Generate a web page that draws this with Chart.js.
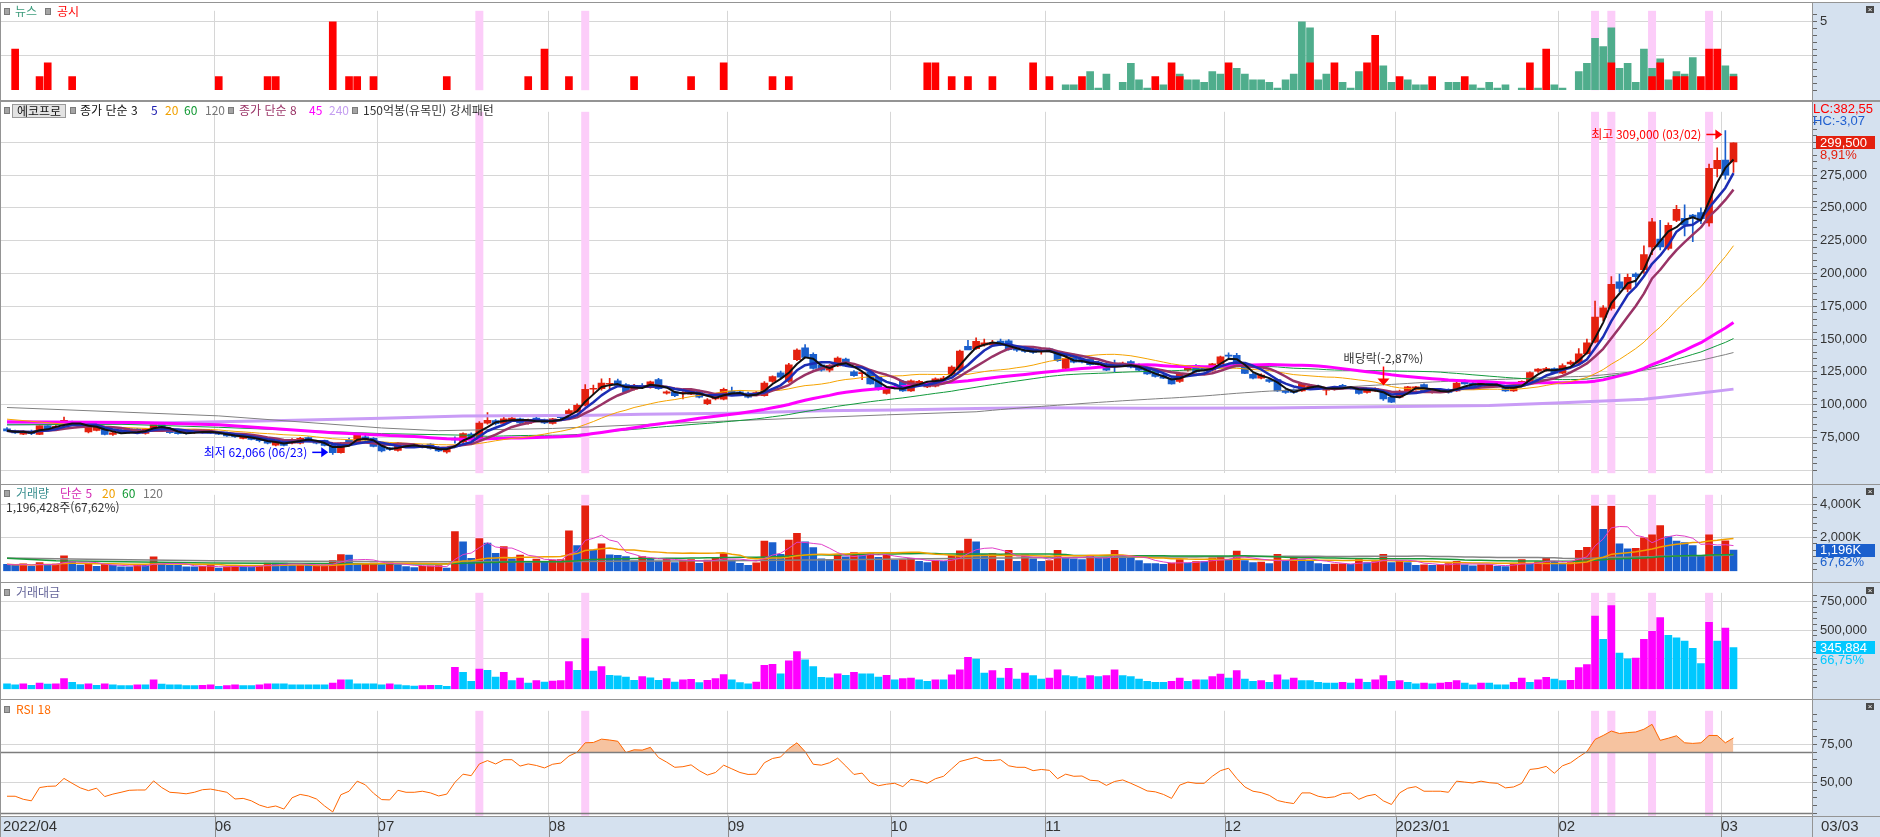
<!DOCTYPE html>
<html lang="ko">
<head>
<meta charset="utf-8">
<title>에코프로 일봉 차트</title>
<script src="https://cdn.jsdelivr.net/npm/chart.js@4.4.1/dist/chart.umd.min.js"></script>
<style>
  html,body{margin:0;padding:0;background:#fff;}
  body{width:1880px;height:837px;position:relative;overflow:hidden;font-family:'Noto Sans CJK KR','Noto Sans',sans-serif;}
  canvas{position:absolute;left:0;z-index:1;}
  .bg{position:absolute;z-index:0;}
  .ln{position:absolute;z-index:3;background:#949494;}
  .t{position:absolute;z-index:4;font-size:12px;line-height:14px;white-space:nowrap;}
  .n{font-family:'Liberation Sans Narrow','Liberation Sans',Arial,sans-serif;font-size:13px;}
  .sq{position:absolute;z-index:4;width:4px;height:5px;background:#a4a4a4;border:1px solid #7a7a7a;}
  .xb{position:absolute;z-index:4;width:8px;height:7px;background:#4a4a4a;color:#fff;font:8px/7px sans-serif;text-align:center;}
  .box{position:absolute;z-index:4;left:12px;top:104px;width:52px;height:12px;border:1px solid #9a9a9a;background:#e3e3e3;font-size:12px;line-height:12px;text-align:center;color:#111;}
</style>
</head>
<body>
<!-- backgrounds -->
<div class="bg" style="left:1812px;top:2px;width:68px;height:814px;background:#d5e1ef"></div>
<div class="bg" style="left:0;top:816px;width:1880px;height:21px;background:#d5e1ef"></div>

<canvas id="cNews" width="1880" height="101" style="top:0"></canvas>
<canvas id="cPrice" width="1880" height="383" style="top:101px"></canvas>
<canvas id="cVol" width="1880" height="98" style="top:484px"></canvas>
<canvas id="cVal" width="1880" height="118" style="top:582px"></canvas>
<canvas id="cRsi" width="1880" height="137" style="top:700px"></canvas>

<!-- panel borders -->
<div class="ln" style="left:0;top:2px;width:1880px;height:1px"></div>
<div class="ln" style="left:0;top:100px;width:1880px;height:2px"></div>
<div class="ln" style="left:0;top:484px;width:1880px;height:1px"></div>
<div class="ln" style="left:0;top:582px;width:1880px;height:1px"></div>
<div class="ln" style="left:0;top:699px;width:1880px;height:1px"></div>
<div class="ln" style="left:0;top:816px;width:1880px;height:1px"></div>
<div class="ln" style="left:0;top:2px;width:1px;height:835px"></div>
<div class="ln" style="left:1812px;top:2px;width:1px;height:835px"></div>

<!-- legends -->
<i class="sq" style="left:4px;top:8px"></i>
<div class="t" style="left:15px;top:4px;color:#3c9c7c">뉴스</div>
<i class="sq" style="left:45px;top:8px"></i>
<div class="t" style="left:57px;top:4px;color:#ff0000">공시</div>

<i class="sq" style="left:4px;top:107px"></i>
<div class="box">에코프로</div>
<i class="sq" style="left:70px;top:107px"></i>
<div class="t" style="left:80px;top:103px;color:#111">종가 단순 3</div>
<div class="t" style="left:151px;top:103px;color:#2020b0">5</div>
<div class="t" style="left:165px;top:103px;color:#f0a000">20</div>
<div class="t" style="left:184px;top:103px;color:#119933">60</div>
<div class="t" style="left:205px;top:103px;color:#777">120</div>
<i class="sq" style="left:228px;top:107px"></i>
<div class="t" style="left:239px;top:103px;color:#993366">종가 단순 8</div>
<div class="t" style="left:309px;top:103px;color:#ff00ff">45</div>
<div class="t" style="left:329px;top:103px;color:#c49ef0">240</div>
<i class="sq" style="left:352px;top:107px"></i>
<div class="t" style="left:363px;top:103px;color:#333">150억봉(유목민) 강세패턴</div>

<i class="sq" style="left:4px;top:490px"></i>
<div class="t" style="left:16px;top:486px;color:#3a8f8f">거래량</div>
<div class="t" style="left:60px;top:486px;color:#d42ab4">단순 5</div>
<div class="t" style="left:102px;top:486px;color:#f0a000">20</div>
<div class="t" style="left:122px;top:486px;color:#119933">60</div>
<div class="t" style="left:143px;top:486px;color:#777">120</div>
<div class="t" id="volInfo" style="left:6px;top:500px;color:#333"></div>

<i class="sq" style="left:4px;top:589px"></i>
<div class="t" style="left:16px;top:585px;color:#66669a">거래대금</div>

<i class="sq" style="left:4px;top:706px"></i>
<div class="t" style="left:16px;top:702px;color:#ff6a00">RSI 18</div>

<!-- right axis info -->
<div class="t n" id="lcInfo" style="left:1813px;top:102px;color:#ff0000"></div>
<div class="t n" id="hcInfo" style="left:1813px;top:114px;color:#1f5fd0"></div>
<div class="t n" id="lastDate" style="left:1821px;top:819px;color:#333;font-size:15px"></div>
<div class="xb" style="left:1866px;top:6px">×</div>
<div class="xb" style="left:1866px;top:488px">×</div>
<div class="xb" style="left:1866px;top:587px">×</div>
<div class="xb" style="left:1866px;top:703px">×</div>

<script>
// ---------------- DATA ----------------
const monthLabels   = ['2022/04','06','07','08','09','10','11','12','2023/01','02','03'];
const monthFirstBar = [0,26,46,67,89,109,128,150,171,191,211];
const lastDateLabel = '03/03';
const priceInfo     = ['LC:382,55','HC:-3,07'];
const extremeDates  = {low:'06/23', high:'03/02'};
const priceEvents   = [{bar:169, text:'배당락(-2,87%)'}];
const highlightBars = [58,71,195,197,202,209];
const rsiLevels     = [70,30];

const openP = [
81500,80000,77500,79800,77200,84000,81600,84700,86400,85200,
79100,80300,81100,77200,80500,81600,81600,78000,81100,85200,
81600,80300,79800,78600,78600,79600,78500,78600,77200,74300,
75000,73500,72600,69000,71800,70600,70600,74800,72300,72800,
68900,63400,73000,71400,75500,74300,69900,67000,65000,69900,
69400,68900,69900,67500,64000,73500,71800,77500,74500,85900,
87800,85600,88100,89100,85700,89800,88600,85700,90200,89500,
94700,99500,111700,112200,115500,118200,115300,111700,114600,112900,
119000,108700,109700,108500,108000,110400,100700,104400,104100,110400,
109700,108700,107500,106800,117700,124300,117700,134300,143300,138400,
130400,126200,129400,134700,125000,123600,125000,120700,108500,114100,
117700,110400,116500,113400,114100,119000,123100,126200,144500,142600,
145500,145500,148500,148700,143800,142500,142600,141000,142600,140200,
127500,136000,134700,134700,132300,131100,131100,129900,132800,130400,
127500,125000,122600,120200,117700,126200,129900,127900,126200,131100,
137400,137600,131100,123100,120200,119000,119000,110900,111400,110400,
112900,114100,111000,111700,114600,112400,112200,109200,110400,110900,
105600,105600,110400,111500,115300,109200,111700,111700,110400,118200,
116500,114600,117000,115800,114100,110400,114100,117700,125500,126000,
127500,124000,131000,131400,138800,147600,166700,173300,193600,188100,
199500,202900,220200,226200,219000,240500,242100,244500,246400,238600,
279800,286400,285000];
const highP = [
82500,80500,80000,80500,84500,85000,84500,90500,87500,85800,
83500,83600,82000,79000,81000,82000,82000,82000,86000,86000,
82500,80800,80300,80500,80200,80000,79000,79000,77800,76000,
75500,74000,73000,72000,72500,74000,75000,75500,72800,73000,
69500,71000,74500,77800,76500,74800,70500,67500,71000,70500,
70000,69500,70200,68000,67500,75500,78500,78500,87000,94000,
88500,91500,92000,89800,89000,90500,89000,89500,91500,96500,
100500,115300,114800,119700,120000,119500,116000,115500,116000,118000,
120000,110500,110000,110000,111500,111000,104500,107000,112500,113400,
110500,109500,110000,117500,122000,125500,131500,142500,145700,139500,
131000,130500,136500,135500,126000,125000,125500,121000,113500,115000,
118500,118800,118500,117000,120500,121500,129500,141500,149000,151000,
150000,149000,150000,149500,144500,143500,143500,142000,143000,141000,
135800,138500,135500,135500,133000,131800,134000,132500,133500,131000,
128000,125500,123000,121000,124500,128500,130500,128500,131500,137000,
139500,139000,131500,123800,123500,120000,119500,111500,112000,116500,
115500,114800,112500,114000,115500,114000,112800,112200,112800,111500,
106000,111000,114000,114000,115800,111500,112200,112000,117000,118800,
117000,118200,117500,116200,114500,114500,118200,125000,127500,128500,
128000,131000,133500,142800,150000,179000,175500,197600,199500,199500,
200500,221000,242100,240500,238600,251900,252400,245000,250000,283300,
295700,309000,299500];
const lowP = [
79800,78000,77000,77000,77000,81000,81000,84000,85000,83000,
78500,80000,76800,76500,78000,78300,78500,77500,80500,81500,
78000,77500,77500,78000,78200,78000,77000,75800,75000,73800,
73000,71500,70000,68500,68500,70000,70000,72000,70000,68500,
62066,63000,71000,71000,72500,67800,64000,65000,64500,67500,
67800,67000,66000,64200,63000,70500,71000,74000,74000,85000,
84500,85000,87500,85500,85000,87000,85500,85000,89000,89000,
94000,99000,108000,111000,111700,114000,109000,111000,113000,112500,
111500,108000,106000,104400,107500,105000,100000,103500,103500,107000,
107000,105000,107000,106500,117000,120000,117000,133500,135500,127000,
125500,125000,129000,129000,121500,119000,115500,111000,108000,112000,
110000,110000,115500,113000,113500,118500,122500,125500,142000,142000,
144500,144500,145000,141500,140500,139800,139000,138500,140500,133000,
127000,131800,131800,130000,130000,125800,125000,129000,128000,125800,
123000,121000,119800,115500,117000,125500,124500,125500,125500,130500,
135500,130000,123500,119500,119500,117000,110000,108500,108500,110000,
112000,111500,107300,111000,112500,112000,108000,108800,110000,103200,
101500,105000,110000,111000,110000,108800,109200,108800,110000,115500,
113200,114200,113800,113500,110000,110000,113800,117200,124500,125500,
123500,123500,130500,131000,138500,147000,164000,172000,186000,186000,
190500,200000,214300,218000,218000,239500,228600,224300,238000,236000,
273600,271900,277100];
const closeP = [
80000,78500,79500,77800,84000,81600,83500,88100,85200,83500,
82800,83200,77200,78400,78800,78600,79100,81600,85200,82000,
78600,77900,77900,79800,79600,78500,77500,76200,75500,75500,
73500,72500,70600,71500,68900,73500,74300,72600,70600,68900,
63400,70600,71800,77200,73100,68200,64600,65800,70600,68200,
68200,67500,66500,64600,67000,73000,77900,74500,85900,88100,
85400,89100,89800,86100,88600,87400,86100,89100,90000,95400,
99500,111700,112200,116500,115800,114600,109700,114600,113600,117300,
112200,109700,106800,109000,110900,105600,103600,106100,111700,107500,
107500,105600,109200,116500,121400,120900,130400,141600,136000,127500,
126200,129900,135500,129400,122100,124300,115800,111700,112900,112900,
110400,118200,117700,116500,119700,120200,128700,140800,141600,148200,
147000,147000,145500,141900,141500,140500,139700,141400,141400,133400,
135200,132300,132300,130400,130400,126200,129900,131600,128700,126200,
123300,121400,120200,115800,123800,127900,125000,125800,131100,136500,
137000,130400,123800,120200,122600,117700,110400,109200,109200,115800,
114100,112200,111200,113400,112900,113600,108500,111700,112200,104400,
101900,110400,113600,113600,110400,110900,109700,109200,116500,115800,
113600,117700,114100,113900,110400,114100,117700,124500,127000,127500,
124000,129800,132500,138800,147000,166700,173800,191700,188600,197100,
197600,214300,239300,220200,236700,248800,236900,242900,241700,280200,
286200,275000,299500];
// 거래량 (천주)
const volumeK = [
330,260,350,200,430,310,340,850,500,280,
340,200,350,260,170,170,260,260,780,320,
270,260,170,170,200,260,90,170,260,170,
170,270,400,400,400,270,280,270,280,290,
560,920,900,360,380,400,300,420,300,190,
120,200,240,250,100,2330,1710,700,1900,1630,
1000,1420,670,900,420,650,510,590,620,2380,
1470,3920,1200,1580,910,880,800,540,800,700,
520,680,430,590,620,380,580,700,990,590,
380,270,410,1750,1660,940,1820,2220,1700,1350,
670,630,880,780,1040,960,975,760,900,566,
620,700,510,430,540,510,860,1150,1870,1710,
940,990,560,1180,510,910,670,510,560,1180,
720,660,610,860,750,690,1180,780,750,560,
370,370,320,400,620,400,500,500,720,800,
620,1140,560,430,460,370,940,560,750,620,
560,370,320,340,360,320,620,430,500,940,
430,560,430,270,290,260,300,370,510,300,
240,300,310,200,190,400,620,340,480,690,
510,400,440,1190,1365,3905,2476,3890,1587,1270,
1300,1950,2140,2700,2030,1750,1667,1476,840,2140,
1430,1769.3,1196.428];
// 거래대금 (백만원)
const valueM = [
27800,20500,27800,15700,35000,25400,27800,73700,42300,23000,
27800,15700,27800,20500,13300,13300,20500,20500,64000,25400,
20500,20500,13300,13300,15700,20500,6000,13300,20500,13300,
13300,20500,27800,27800,27800,20500,20500,20500,20500,20500,
35000,64000,64000,27800,27800,27800,20500,27800,20500,13300,
8500,13300,15700,15700,6000,172700,129200,49500,158200,146100,
88100,129200,56800,78500,35000,56800,44700,51900,56800,223400,
146100,426200,140000,180000,102600,97800,88100,59200,93000,80900,
59200,73700,44700,64000,68800,39800,59200,73700,109900,64000,
39800,27800,44700,190000,200000,117100,230600,310300,237900,179900,
85700,80900,117100,102600,129200,117100,117100,88100,102600,64000,
73700,78500,64000,49500,64000,64000,107000,151000,260000,245000,
122000,144000,78500,165000,71000,122000,100000,71000,78500,151000,
100000,93000,78500,100000,93000,100000,151000,100000,93000,71000,
49500,42000,42000,49500,78500,49500,64000,64000,93000,115000,
78500,144000,71000,49500,56800,42000,107000,64000,78500,56800,
56800,42000,35000,35000,42000,35000,71000,42000,64000,100000,
49500,56800,42000,27800,35000,27800,35000,42000,56800,35000,
20500,35000,35000,20500,20500,42000,78500,42000,64000,85700,
71000,56800,60000,170000,198000,623000,418000,715000,297000,248000,
255000,418000,489000,609000,453000,432000,404000,340000,205000,567000,
404000,518178,345884];
const rsi18 = [
41.1,41.1,39.1,38.1,46.8,47.6,47.8,52.8,49.6,46.6,
44.8,46.4,40.9,42.5,43.7,45.0,45.2,45.2,51.2,46.8,
43.7,43.3,42.7,43.7,45.4,45.8,44.8,43.7,39.3,39.7,
38.1,35.3,33.7,34.7,32.7,40.1,42.3,41.3,39.3,34.7,
30.8,42.1,44.4,51.0,48.6,43.1,38.9,38.7,45.0,43.7,
43.7,44.4,43.3,41.3,42.5,50.2,55.6,54.6,62.3,64.5,
62.3,65.1,65.1,60.9,62.3,61.3,59.7,62.1,62.9,67.5,
70.0,76.2,76.4,78.6,78.0,77.2,69.8,71.6,71.4,73.2,
66.5,63.5,60.1,60.5,61.7,57.9,55.0,56.7,61.5,59.1,
56.7,55.4,55.6,63.1,65.9,66.9,72.4,76.2,70.4,62.1,
61.5,63.1,66.1,60.9,55.4,56.3,50.2,48.0,49.0,49.6,
47.4,52.2,51.2,49.6,52.6,54.2,59.1,63.9,65.3,66.7,
64.5,64.5,65.1,61.1,60.1,60.1,57.9,58.7,58.1,52.6,
55.6,54.2,54.4,51.6,51.2,48.2,50.8,51.8,49.6,47.2,
44.6,44.0,42.3,39.7,48.4,50.4,49.6,49.6,54.2,57.9,
59.5,52.8,47.2,44.4,43.5,41.7,38.3,37.1,36.3,43.3,
43.3,41.1,40.1,40.7,42.9,43.3,39.1,41.3,42.3,38.1,
35.7,43.3,46.4,47.4,44.4,44.4,44.4,43.7,51.0,50.4,
49.8,51.0,50.0,49.6,46.6,47.2,49.6,58.7,59.3,60.7,
56.2,61.1,63.1,66.9,70.4,78.4,81.0,83.9,82.3,82.9,
83.3,85.1,88.3,77.8,79.2,80.8,76.2,75.8,76.2,81.0,
81.0,76.2,79.4];
// 뉴스 / 공시 (bar index, height)
const newsBar   = [130,131,133,134,135,137,138,139,140,142,144,145,146,147,148,149,151,152,153,154,155,156,157,158,159,160,161,162,164,165,166,169,170,172,173,174,177,178,180,181,182,183,184,186,188,190,191,193,194,195,196,197,198,199,200,201,202,203,204,205,206,207,211,212];
const newsCount = [0.4,0.4,1.36,0.16,1.18,0.58,1.96,0.76,0.16,0.4,1.18,0.76,0.76,0.58,1.36,1.18,1.6,1.18,0.76,0.76,0.58,0.16,0.76,1.18,5.0,4.55,0.76,1.18,0.58,0.16,1.36,1.78,0.58,0.76,0.4,0.4,0.58,0.58,0.4,0.16,0.58,0.16,0.4,0.16,0.16,0.4,0.16,1.36,1.96,3.79,3.19,4.55,1.6,1.96,0.58,3.0,1.6,2.3,0.76,1.36,1.18,2.39,1.78,1.18];
const discBar   = [1,4,5,8,26,32,33,40,42,43,45,54,64,66,69,77,84,88,94,96,113,114,116,118,121,126,128,132,141,143,144,150,160,163,167,168,171,175,179,187,189,197,202,203,205,206,208,209,210,212];
const discCount = [3,1,2,1,1,1,1,5,1,1,1,1,1,3,1,1,1,2,1,1,2,2,1,1,1,2,1,1,1,2,1,2,2,2,2,4,1,1,1,2,3,2,1,2,1,1,1,3,3,1];
// 이동평균 중 차트 시작 이전 데이터가 필요한 구간
const ma20Early  = [[0,88900],[10,83500]];
const ma45Early  = [[0,86900],[16,86400],[26,84600],[40,78500]];
const ma60Early  = [[0,84600],[14,85000],[26,82700],[46,77900],[56,76700]];
const ma120Early = [[0,97800],[26,91400],[46,82200],[53,80100],[67,81800],[88,87400],[108,92200]];
const ma240Read  = [[0,85300],[18,86000],[26,87000],[34,87800],[46,89600],[56,91400],[72,91800],[78,92700],[89,93400],[100,95400],[109,95900],[119,97100],[126,97600],[140,97300],[155,97500],[171,98600],[182,99400],[191,101400],[201,104100],[208,108900],[212,111800]];
const volMa60Early  = [[0,700],[6,544],[25,400],[53,352]];
const volMa120Early = [[0,720],[10,640],[25,544],[50,480],[70,500],[92,560],[105,624]];

// ---------------- HELPERS ----------------
const RED='#e4200e', BLUE='#1a5fcd', MAG='#ff00ff', CYAN='#00c8ff';
const NARROW="'Liberation Sans Narrow','Liberation Sans',Arial,sans-serif";
const CJK="'Noto Sans CJK KR','Noto Sans',sans-serif";
const fmt = v => Math.round(v).toLocaleString('en-US');
const dec2 = v => v.toFixed(2).replace('.', ',');
const near = (v, m) => Math.abs(v / m - Math.round(v / m)) < 1e-6;
const same = (v, t) => Math.abs(v - t) < 1e-6;
const N = closeP.length;
const idx = Array.from({length:N}, (_, i) => i);
const XMIN = -0.86, XMAX = 221.64;

function sma(src, n, startAt, partial) {
  const out = []; let sum = 0;
  for (let i = 0; i < src.length; i++) {
    sum += src[i];
    if (i >= n) sum -= src[i - n];
    const cnt = Math.min(i + 1, n);
    if (i >= startAt && (partial || i >= n - 1)) out.push({x:i, y:sum / cnt});
  }
  return out;
}
function blend(early, src, n) {
  return early.filter(p => p[0] < n - 1).map(p => ({x:p[0], y:p[1]})).concat(sma(src, n, n - 1, false));
}
const pts = arr => arr.map(p => ({x:p[0], y:p[1]}));

Chart.defaults.font.family = NARROW;
Chart.defaults.font.size = 13;
Chart.defaults.color = '#333';

function xScale(showLabels) {
  return {
    type:'linear', min:XMIN, max:XMAX, position:'bottom', offset:false, bounds:'data',
    afterBuildTicks: s => { s.ticks = monthFirstBar.map(b => ({value:b - 0.5})); },
    afterFit: s => { s.height = showLabels ? 21.3 : 0; },
    grid:{ color: c => c.index === 0 ? 'rgba(0,0,0,0)' : '#d6d6d6', drawTicks:false, offset:false, lineWidth:1 },
    border:{ display:false },
    ticks: showLabels
      ? { display:true, autoSkip:false, maxRotation:0, minRotation:0, align:'start', padding:2,
          font:{size:15, family:NARROW}, color:'#333', callback:(v, i) => monthLabels[i] }
      : { display:false }
  };
}
function yScale(min, max, step, isMajor, label) {
  return {
    type:'linear', position:'right', min, max, bounds:'data',
    afterBuildTicks: s => {
      const t = []; const k0 = Math.ceil(min / step - 1e-9);
      for (let k = k0; k * step <= max + 1e-9; k++) t.push({value: +(k * step).toFixed(6)});
      s.ticks = t;
    },
    afterFit: s => { s.width = 68; },
    border:{ display:true, color:'#8f8f8f', width:1 },
    grid:{ color: c => (c.tick && isMajor(c.tick.value)) ? '#d6d6d6' : 'rgba(0,0,0,0)', tickColor:'#666', tickLength:5, drawTicks:true },
    ticks:{ autoSkip:false, padding:3, color:'#333', font:{size:13, family:NARROW}, callback: v => label(v) }
  };
}
function baseOptions(scales, extraPlugins, padding) {
  return {
    responsive:false, maintainAspectRatio:false, animation:false, events:[],
    layout:{ padding: padding || 0, autoPadding:false },
    plugins: Object.assign({ legend:{display:false}, tooltip:{enabled:false} }, extraPlugins || {}),
    scales
  };
}
const line = (data, color, width, order) => ({
  type:'line', data, borderColor:color, borderWidth:width, pointRadius:0, fill:false,
  tension:0, order, borderJoinStyle:'round', spanGaps:true
});

// ---------------- PLUGINS ----------------
const bandsPlugin = {
  id:'bands',
  beforeDatasetsDraw(chart) {
    const {ctx, chartArea:a, scales:{x}} = chart;
    ctx.save(); ctx.fillStyle = '#fccdf9';
    highlightBars.forEach(b => { const px = x.getPixelForValue(b); ctx.fillRect(px - 4, a.top, 8, a.bottom - a.top); });
    ctx.restore();
  }
};
const lastBoxPlugin = {
  id:'lastBox',
  afterDraw(chart, args, o) {
    if (!o || !o.text) return;
    const {ctx, chartArea:a, scales:{y}} = chart;
    const py = y.getPixelForValue(o.value);
    const x0 = a.right + 4, w = 59, h = 13;
    ctx.save();
    ctx.fillStyle = o.bg; ctx.fillRect(x0, Math.round(py - h / 2), w, h);
    ctx.font = '13px ' + NARROW; ctx.textBaseline = 'middle'; ctx.textAlign = 'left';
    ctx.fillStyle = '#fff'; ctx.fillText(o.text, x0 + 4, py + 0.5);
    ctx.fillStyle = o.subColor; ctx.fillText(o.sub, x0 + 4, py + 12.5);
    ctx.restore();
  }
};
function arrowLabel(ctx, xEnd, yc, text, color) {
  ctx.strokeStyle = color; ctx.fillStyle = color; ctx.lineWidth = 1.5;
  ctx.beginPath(); ctx.moveTo(xEnd - 16, yc); ctx.lineTo(xEnd - 6, yc); ctx.stroke();
  ctx.beginPath(); ctx.moveTo(xEnd, yc); ctx.lineTo(xEnd - 7, yc - 5); ctx.lineTo(xEnd - 7, yc + 5); ctx.closePath(); ctx.fill();
  ctx.font = '12px ' + CJK; ctx.textAlign = 'right'; ctx.textBaseline = 'middle';
  ctx.fillText(text, xEnd - 21, yc);
}
const priceAnnotPlugin = {
  id:'priceAnnot',
  afterDatasetsDraw(chart) {
    const {ctx, scales:{x, y}} = chart;
    let li = 0, hi = 0;
    lowP.forEach((v, i) => { if (v < lowP[li]) li = i; });
    highP.forEach((v, i) => { if (v > highP[hi]) hi = i; });
    ctx.save();
    arrowLabel(ctx, x.getPixelForValue(li) - 4.5, y.getPixelForValue(lowP[li]) - 2,
      '최저 ' + fmt(lowP[li]) + ' (' + extremeDates.low + ')', '#0000ff');
    arrowLabel(ctx, x.getPixelForValue(hi) - 3, y.getPixelForValue(highP[hi]) + 4,
      '최고 ' + fmt(highP[hi]) + ' (' + extremeDates.high + ')', '#ff0000');
    priceEvents.forEach(ev => {
      const px = Math.round(x.getPixelForValue(ev.bar)) + 0.5;
      const tip = y.getPixelForValue(highP[ev.bar]) - 4;
      ctx.strokeStyle = '#ff0000'; ctx.fillStyle = '#ff0000'; ctx.lineWidth = 1.5;
      ctx.beginPath(); ctx.moveTo(px, tip - 19); ctx.lineTo(px, tip - 6); ctx.stroke();
      ctx.beginPath(); ctx.moveTo(px - 6, tip - 7); ctx.lineTo(px + 6, tip - 7); ctx.lineTo(px, tip); ctx.closePath(); ctx.fill();
      ctx.fillStyle = '#333'; ctx.font = '12px ' + CJK; ctx.textAlign = 'center'; ctx.textBaseline = 'middle';
      ctx.fillText(ev.text, px, tip - 27);
    });
    ctx.restore();
  }
};
const rsiLinesPlugin = {
  id:'rsiLines',
  afterDatasetsDraw(chart) {
    const {ctx, chartArea:a, scales:{y}} = chart;
    ctx.save(); ctx.strokeStyle = '#7d7d7d'; ctx.lineWidth = 1.5;
    rsiLevels.forEach(v => {
      const py = Math.round(y.getPixelForValue(v)) + 0.5;
      ctx.beginPath(); ctx.moveTo(a.left, py); ctx.lineTo(a.right, py); ctx.stroke();
    });
    ctx.restore();
  },
  afterDraw(chart) {
    const {ctx, chartArea:a, scales:{x}} = chart;
    ctx.save(); ctx.strokeStyle = '#8a8a8a'; ctx.lineWidth = 1;
    x.ticks.forEach((t, i) => {
      if (i === 0) return;
      const px = Math.round(x.getPixelForValue(t.value)) + 0.5;
      ctx.beginPath(); ctx.moveTo(px, a.bottom); ctx.lineTo(px, chart.height); ctx.stroke();
    });
    ctx.restore();
  }
};

// ---------------- NEWS ----------------
new Chart(document.getElementById('cNews'), {
  type:'bar',
  data:{ datasets:[
    { data:newsBar.map((b, k) => ({x:b, y:newsCount[k]})), backgroundColor:'#4fad8c', barThickness:7, grouped:false, order:2 },
    { data:discBar.map((b, k) => ({x:b, y:discCount[k]})), backgroundColor:'#ff0000', barThickness:7, grouped:false, order:1 }
  ]},
  options: baseOptions({
    x: xScale(false),
    y: yScale(0, 5.8, 0.5, v => v > 0 && near(v, 2.5), v => same(v, 5) ? '5' : '')
  }, null, {top:3, bottom:2.4, left:0, right:0}),
  plugins:[bandsPlugin]
});

// ---------------- PRICE ----------------
const candleColor = idx.map(i => closeP[i] >= openP[i] ? RED : BLUE);
const lastC = closeP[N - 1], prevC = closeP[N - 2];
new Chart(document.getElementById('cPrice'), {
  type:'bar',
  data:{ datasets:[
    { data:idx.map(i => ({x:i, y:[lowP[i], highP[i]]})), backgroundColor:candleColor, barThickness:1, grouped:false, order:30 },
    { data:idx.map(i => ({x:i, y:[openP[i], closeP[i]]})), backgroundColor:candleColor, barThickness:7, minBarLength:1, grouped:false, order:29 },
    line(pts(ma240Read), '#c99cf6', 3, 9),
    line(blend(ma120Early, closeP, 120), '#808080', 1, 8),
    line(blend(ma60Early, closeP, 60), '#129a3c', 1, 7),
    line(blend(ma45Early, closeP, 45), '#ff00ff', 3, 6),
    line(blend(ma20Early, closeP, 20), '#f5a300', 1, 5),
    line(sma(closeP, 8, 0, true), '#993366', 2.5, 4),
    line(sma(closeP, 5, 0, true), '#1c2db4', 2.5, 3),
    line(sma(closeP, 3, 0, true), '#111111', 2, 2)
  ]},
  options: baseOptions({
    x: xScale(false),
    y: yScale(47698, 323237, 5000, v => near(v, 25000), v => (v >= 75000 && near(v, 25000)) ? fmt(v) : '')
  }, { lastBox:{ value:lastC, text:fmt(lastC), bg:'#e4200e', subColor:'#e4200e', sub:dec2((lastC / prevC - 1) * 100) + '%' } }),
  plugins:[bandsPlugin, priceAnnotPlugin, lastBoxPlugin]
});

// ---------------- VOLUME ----------------
const VOL_MIN = -96, VOL_MAX = 4590;
const lastV = volumeK[N - 1], prevV = volumeK[N - 2];
new Chart(document.getElementById('cVol'), {
  type:'bar',
  data:{ datasets:[
    { data:idx.map(i => ({x:i, y:volumeK[i]})), base:VOL_MIN,
      backgroundColor:idx.map(i => (i > 0 && volumeK[i] > volumeK[i - 1]) ? RED : BLUE), barThickness:7, grouped:false, order:20 },
    line(blend(volMa120Early, volumeK, 120), '#858585', 1.5, 5),
    line(blend(volMa60Early, volumeK, 60), '#1a9a3a', 1.5, 4),
    line(sma(volumeK, 20, 0, true), '#f0a000', 1.5, 3),
    line(sma(volumeK, 5, 0, true), '#e040c8', 1, 2)
  ]},
  options: baseOptions({
    x: xScale(false),
    y: yScale(VOL_MIN, VOL_MAX, 400, v => v > 0 && near(v, 2000), v => (v > 0 && near(v, 2000)) ? fmt(v) + 'K' : '')
  }, { lastBox:{ value:lastV, text:fmt(lastV) + 'K', bg:'#1a5fcd', subColor:'#1a5fcd', sub:dec2(lastV / prevV * 100) + '%' } }),
  plugins:[bandsPlugin, lastBoxPlugin]
});

// ---------------- TRADING VALUE ----------------
const VAL_MIN = -18600, VAL_MAX = 826600;
const lastM = valueM[N - 1], prevM = valueM[N - 2];
new Chart(document.getElementById('cVal'), {
  type:'bar',
  data:{ datasets:[
    { data:idx.map(i => ({x:i, y:valueM[i]})), base:VAL_MIN,
      backgroundColor:idx.map(i => (i > 0 && valueM[i] > valueM[i - 1]) ? MAG : CYAN), barThickness:7, grouped:false }
  ]},
  options: baseOptions({
    x: xScale(false),
    y: yScale(VAL_MIN, VAL_MAX, 50000, v => v > 0 && near(v, 250000), v => (v >= 500000 && near(v, 250000)) ? fmt(v) : '')
  }, { lastBox:{ value:lastM, text:fmt(lastM), bg:'#00c8ff', subColor:'#00c8ff', sub:dec2(lastM / prevM * 100) + '%' } }),
  plugins:[bandsPlugin, lastBoxPlugin]
});

// ---------------- RSI ----------------
new Chart(document.getElementById('cRsi'), {
  type:'line',
  data:{ datasets:[
    { data:idx.map(i => ({x:i, y:rsi18[i]})), borderColor:'#ff6600', borderWidth:1, pointRadius:0, tension:0,
      fill:{ target:{value:70}, above:'#f6c3a0', below:'rgba(0,0,0,0)' } }
  ]},
  options: baseOptions({
    x: xScale(true),
    y: yScale(28.33, 97.2, 5, v => same(v, 50) || same(v, 75), v => (same(v, 50) || same(v, 75)) ? dec2(v) : '')
  }),
  plugins:[bandsPlugin, rsiLinesPlugin]
});

// ---------------- TEXT ----------------
document.getElementById('volInfo').textContent = fmt(lastV * 1000) + '주(' + dec2(lastV / prevV * 100) + '%)';
document.getElementById('lcInfo').textContent = priceInfo[0];
document.getElementById('hcInfo').textContent = priceInfo[1];
document.getElementById('lastDate').textContent = lastDateLabel;
</script>
</body>
</html>
